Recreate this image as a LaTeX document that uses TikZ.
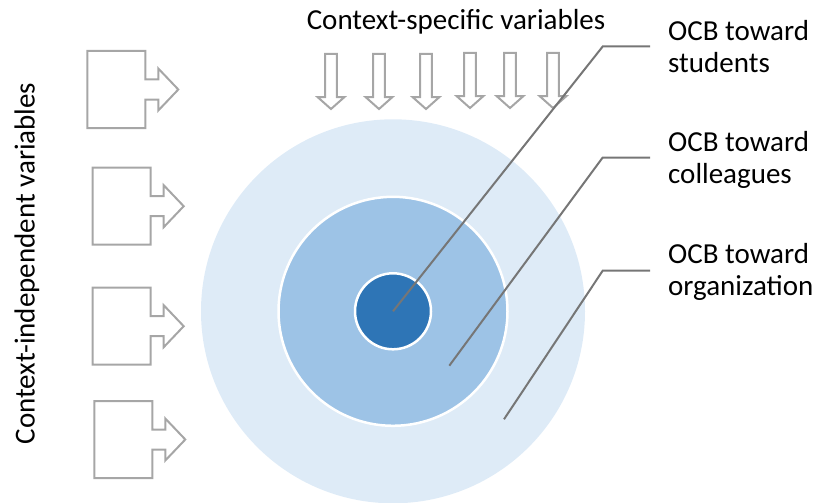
\documentclass[tikz,border=0pt]{standalone}
\usepackage{fontspec}
\setmainfont{Carlito}
\usetikzlibrary{positioning}

\definecolor{ringout}{HTML}{DEEBF7}
\definecolor{ringmid}{HTML}{9DC3E6}
\definecolor{ringin}{HTML}{2E75B6}
\definecolor{arrowgray}{HTML}{A6A6A6}
\definecolor{leadgray}{HTML}{767676}

\begin{document}
\begin{tikzpicture}[x=1pt, y=-1pt,
    ring/.style={circle, inner sep=0pt},
    leader/.style={leadgray, line width=2pt},
    ocblabel/.style={anchor=north west, align=left, inner xsep=18pt, inner ysep=0pt, font=\fontsize{29}{32}\selectfont},
    sidearrow/.pic={\draw[arrowgray, line width=2pt] (0,0) -- (58,0) -- (58,28.5) -- (71,28.5) -- (71,17.5) -- (91,38.5) -- (71,59.5) -- (71,48.5) -- (58,48.5) -- (58,77) -- (0,77) -- cycle;},
    downarrow/.pic={\draw[arrowgray, line width=2pt] (-5.8,0) -- (5.8,0) -- (5.8,43) -- (13.5,43) -- (0,55) -- (-13.5,43) -- (-5.8,43) -- cycle;}
]
    \useasboundingbox (0,0) rectangle (830,503);

    % the three rings
    \node[ring, minimum size=384pt, fill=ringout] (outer) at (393,311.3) {};
    \node[ring, minimum size=229pt, fill=ringmid, draw=white, line width=2.5pt] (mid) at (outer.center) {};
    \node[ring, minimum size=76pt, fill=ringin, draw=white, line width=2.5pt] (inner) at (outer.center) {};

    % input arrows
    \foreach \x/\y in {87.3/51, 92.7/167.7, 92.7/287.7, 94.3/401}
        \pic at (\x,\y) {sidearrow};
    \foreach \x/\y in {331/54, 379/54, 426/54, 470/53, 510/53, 553/53}
        \pic at (\x,\y) {downarrow};

    \node[font=\fontsize{29}{34}\selectfont, anchor=base, inner sep=0pt] (ctxspec) at (456,30) {Context-specific variables};
    \node[font=\fontsize{29}{34}\selectfont, rotate=90, inner sep=0pt] (ctxind) at (27,263.5) {Context-independent variables};

    % labels on the right
    \node[ocblabel] (stu) at (650,18.3) {\strut OCB toward\\\strut students};
    \node[ocblabel] (col) at (650,129.3) {\strut OCB toward\\\strut colleagues};
    \node[ocblabel] (org) at (650,240.9) {\strut OCB toward\\\strut organization};

    \coordinate (kstu) at (602.7,46.5);
    \coordinate (kcol) at (602.7,157.5);
    \coordinate (korg) at (602.7,270.7);
    \coordinate (pcol) at (449.3,365.7);
    \coordinate (porg) at (504,419.3);

    \draw[leader] (inner.center) -- (kstu) -- (kstu -| stu.west);
    \draw[leader] (pcol) -- (kcol) -- (kcol -| col.west);
    \draw[leader] (porg) -- (korg) -- (korg -| org.west);
\end{tikzpicture}
\end{document}
